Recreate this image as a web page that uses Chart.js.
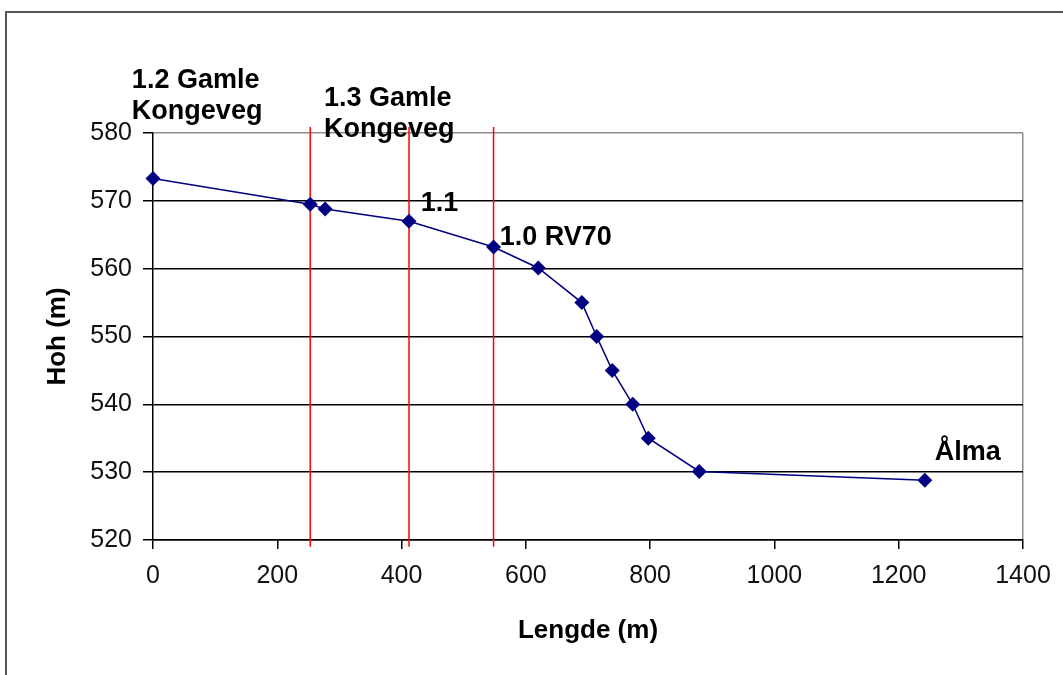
<!DOCTYPE html>
<html lang="no">
<head>
<meta charset="UTF-8">
<title>Lengdeprofil</title>
<script src="https://cdn.jsdelivr.net/npm/chart.js@4.4.1/dist/chart.umd.min.js"></script>
<style>
    html, body { margin: 0; padding: 0; background: #fff; overflow: hidden; }
    #wrap { position: relative; width: 1063px; height: 675px; }
    #frame { position: absolute; left: 5px; top: 11px; width: 1200px; height: 800px; border-left: 2px solid #555; border-top: 2px solid #555; pointer-events: none; }
    canvas { position: absolute; left: 0; top: 0; }
</style>
</head>
<body>
<div id="wrap">
    <canvas id="profileChart" width="1063" height="675"></canvas>
    <div id="frame"></div>
</div>
<script>
// 数据：长度 (m) 和高度 (m)
const lengths = [0, 253, 277, 412, 548, 620, 690, 714, 739, 772, 797, 879, 1242];
const heights = [573.3, 569.5, 568.8, 567.0, 563.2, 560.1, 555.0, 550.0, 545.0, 540.0, 535.0, 530.1, 528.8];

// 分段红线位置和上下端
const sectionLines = [253, 412, 548];
const sectionSpan = [519, 580.9];

// 坐标轴刻度
const xTicks = [0, 200, 400, 600, 800, 1000, 1200, 1400];
const yTicks = [520, 530, 540, 550, 560, 570, 580];

// 标注文字及其锚点 (数据坐标)
const labelTexts = [['1.2 Gamle', 'Kongeveg'], ['1.3 Gamle', 'Kongeveg'], ['1.1'], ['1.0 RV70'], ['Ålma']];
const labelX = [-34, 275, 431, 558, 1258];
const labelY = [586.6, 584.0, 568.5, 563.5, 531.8];

// 标注插件
const labelPlugin = {
    id: 'profileLabels',
    afterDatasetsDraw(chart) {
        const ctx = chart.ctx;
        const xs = chart.scales.x;
        const ys = chart.scales.y;
        ctx.save();
        ctx.font = 'bold 27px "Liberation Sans"';
        ctx.fillStyle = '#000';
        ctx.textAlign = 'left';
        ctx.textBaseline = 'alphabetic';
        labelTexts.forEach((lines, i) => {
            const px = xs.getPixelForValue(labelX[i]);
            const py = ys.getPixelForValue(labelY[i]);
            lines.forEach((line, j) => {
                ctx.fillText(line, px, py + j * 31);
            });
        });
        ctx.restore();
    }
};

function initChart() {
    const ctx = document.getElementById('profileChart');

    const profileData = lengths.map((x, i) => ({ x: x, y: heights[i] }));

    // 红色竖线
    const sectionDatasets = sectionLines.map(x => ({
        data: [{ x: x, y: sectionSpan[0] }, { x: x, y: sectionSpan[1] }],
        borderColor: '#ff0000',
        borderWidth: 1.5,
        pointRadius: 0,
        showLine: true,
        clip: false
    }));

    new Chart(ctx, {
        type: 'scatter',
        data: {
            datasets: [
                {
                    data: profileData,
                    borderColor: '#000080',
                    backgroundColor: '#000080',
                    borderWidth: 1.5,
                    showLine: true,
                    pointStyle: 'rectRot',
                    pointRadius: 7.5,
                    pointBorderWidth: 0,
                    clip: false
                },
                ...sectionDatasets
            ]
        },
        options: {
            responsive: false,
            animation: false,
            events: [],
            layout: {
                padding: { left: 0, top: 133, right: 40, bottom: 0 }
            },
            plugins: {
                legend: { display: false },
                tooltip: { enabled: false }
            },
            scales: {
                x: {
                    type: 'linear',
                    min: xTicks[0],
                    max: xTicks[xTicks.length - 1],
                    afterBuildTicks: axis => { axis.ticks = xTicks.map(v => ({ value: v })); },
                    afterFit: axis => { axis.height = 135; },
                    grid: {
                        color: c => c.tick && c.tick.value === 1400 ? '#8c8c8c' : 'rgba(0,0,0,0)',
                        tickColor: '#000',
                        tickLength: 9,
                        lineWidth: 1.5
                    },
                    border: { color: '#000', width: 1.5 },
                    ticks: {
                        color: '#111',
                        padding: 12,
                        font: { family: '"Liberation Sans"', size: 25 },
                        callback: v => String(v)
                    },
                    title: {
                        display: true,
                        text: 'Lengde (m)',
                        color: '#000',
                        padding: { top: 0, bottom: 29 },
                        font: { family: '"Liberation Sans"', size: 26, weight: 'bold' }
                    }
                },
                y: {
                    type: 'linear',
                    min: yTicks[0],
                    max: yTicks[yTicks.length - 1],
                    afterBuildTicks: axis => { axis.ticks = yTicks.map(v => ({ value: v })); },
                    afterFit: axis => { axis.width = 153; },
                    grid: {
                        color: c => c.tick && c.tick.value === 580 ? '#8c8c8c' : '#000',
                        tickColor: '#000',
                        tickLength: 10,
                        lineWidth: 1.5
                    },
                    border: { color: '#000', width: 1.5 },
                    ticks: {
                        color: '#111',
                        padding: 11,
                        font: { family: '"Liberation Sans"', size: 25 },
                        callback: v => String(v)
                    },
                    title: {
                        display: true,
                        text: 'Hoh (m)',
                        color: '#000',
                        padding: { top: 42, bottom: 0 },
                        font: { family: '"Liberation Sans"', size: 26, weight: 'bold' }
                    }
                }
            }
        },
        plugins: [labelPlugin]
    });
}

initChart();
</script>
</body>
</html>
